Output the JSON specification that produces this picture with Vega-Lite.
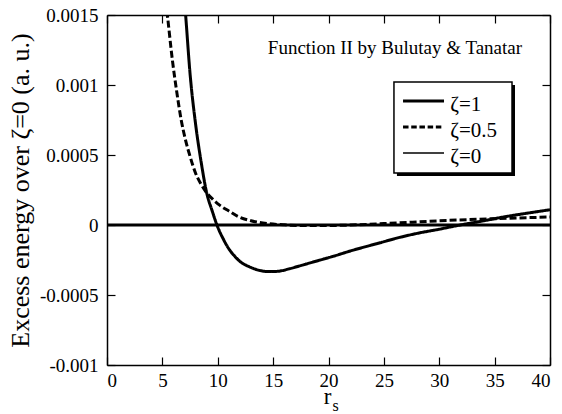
{
  "$schema": "https://vega.github.io/schema/vega-lite/v6.json",
  "width": 443,
  "height": 350,
  "autosize": {"type": "none"},
  "padding": {"left": 107, "top": 15, "right": 12, "bottom": 49},
  "background": "white",
  "config": {
    "font": "Liberation Serif",
    "view": {"stroke": null},
    "style": {
      "guide-label": {"font": "Liberation Serif", "fontSize": 19, "fill": "black"},
      "guide-title": {"font": "Liberation Serif", "fill": "black", "fontWeight": "normal"}
    },
    "axis": {
      "domainColor": "black",
      "domainWidth": 1.5,
      "tickColor": "black",
      "tickWidth": 1.2,
      "tickSize": -8,
      "grid": false,
      "labelFont": "Liberation Serif",
      "labelFontSize": 19,
      "labelColor": "black",
      "titleFont": "Liberation Serif",
      "titleFontWeight": "normal",
      "titleColor": "black"
    }
  },
  "datasets": {
    "curves": [
      {"series": "ζ=0", "r": 0, "e": 0},
      {"series": "ζ=0", "r": 40, "e": 0},
      {"series": "ζ=0.5", "r": 5.3, "e": 0.0016},
      {"series": "ζ=0.5", "r": 5.45, "e": 0.0015},
      {"series": "ζ=0.5", "r": 5.9, "e": 0.00118},
      {"series": "ζ=0.5", "r": 6.3, "e": 0.00095},
      {"series": "ζ=0.5", "r": 6.7, "e": 0.00075},
      {"series": "ζ=0.5", "r": 7.05, "e": 0.00062},
      {"series": "ζ=0.5", "r": 7.5, "e": 0.00049},
      {"series": "ζ=0.5", "r": 8.0, "e": 0.00037},
      {"series": "ζ=0.5", "r": 8.5, "e": 0.00029},
      {"series": "ζ=0.5", "r": 9.0, "e": 0.00023},
      {"series": "ζ=0.5", "r": 9.6, "e": 0.00018},
      {"series": "ζ=0.5", "r": 10.2, "e": 0.00014},
      {"series": "ζ=0.5", "r": 11.0, "e": 0.0001},
      {"series": "ζ=0.5", "r": 11.85, "e": 0.00006},
      {"series": "ζ=0.5", "r": 13.0, "e": 0.00003},
      {"series": "ζ=0.5", "r": 14.5, "e": 0.00001},
      {"series": "ζ=0.5", "r": 16.0, "e": 0.000001},
      {"series": "ζ=0.5", "r": 18.0, "e": -0.000004},
      {"series": "ζ=0.5", "r": 20.0, "e": -0.000004},
      {"series": "ζ=0.5", "r": 22.0, "e": 0},
      {"series": "ζ=0.5", "r": 25.0, "e": 0.00001},
      {"series": "ζ=0.5", "r": 30.0, "e": 0.00003},
      {"series": "ζ=0.5", "r": 35.0, "e": 0.000045},
      {"series": "ζ=0.5", "r": 40.0, "e": 0.000057},
      {"series": "ζ=1", "r": 6.95, "e": 0.00165},
      {"series": "ζ=1", "r": 7.1, "e": 0.0015},
      {"series": "ζ=1", "r": 7.5, "e": 0.00108},
      {"series": "ζ=1", "r": 8.0, "e": 0.00072},
      {"series": "ζ=1", "r": 8.5, "e": 0.00045},
      {"series": "ζ=1", "r": 9.0, "e": 0.00023},
      {"series": "ζ=1", "r": 9.5, "e": 0.0001},
      {"series": "ζ=1", "r": 10.0, "e": -0.000015},
      {"series": "ζ=1", "r": 10.5, "e": -0.0001},
      {"series": "ζ=1", "r": 11.0, "e": -0.00017},
      {"series": "ζ=1", "r": 11.5, "e": -0.00022},
      {"series": "ζ=1", "r": 12.0, "e": -0.00026},
      {"series": "ζ=1", "r": 12.9, "e": -0.0003},
      {"series": "ζ=1", "r": 13.8, "e": -0.000325},
      {"series": "ζ=1", "r": 14.7, "e": -0.000333},
      {"series": "ζ=1", "r": 15.5, "e": -0.00033},
      {"series": "ζ=1", "r": 16.5, "e": -0.000312},
      {"series": "ζ=1", "r": 17.4, "e": -0.000292},
      {"series": "ζ=1", "r": 18.5, "e": -0.000267},
      {"series": "ζ=1", "r": 20.4, "e": -0.000224},
      {"series": "ζ=1", "r": 22.0, "e": -0.000185},
      {"series": "ζ=1", "r": 24.65, "e": -0.000127},
      {"series": "ζ=1", "r": 26.5, "e": -0.000087},
      {"series": "ζ=1", "r": 28.0, "e": -0.00006},
      {"series": "ζ=1", "r": 30.0, "e": -0.00003},
      {"series": "ζ=1", "r": 31.9, "e": 0},
      {"series": "ζ=1", "r": 34.0, "e": 0.00003},
      {"series": "ζ=1", "r": 36.0, "e": 0.00006},
      {"series": "ζ=1", "r": 38.0, "e": 0.000085},
      {"series": "ζ=1", "r": 40.0, "e": 0.000109}
    ],
    "one": [{}]
  },
  "layer": [
    {
      "data": {"name": "curves"},
      "mark": {"type": "line", "color": "black", "clip": true, "interpolate": "monotone"},
      "encoding": {
        "x": {
          "field": "r", "type": "quantitative",
          "scale": {"domain": [0, 40], "nice": false, "zero": false},
          "axis": {
            "values": [0, 5, 10, 15, 20, 25, 30, 35, 40],
            "labelFont": "Liberation Serif",
            "labelFontSize": 19,
            "labelPadding": 14,
            "title": "r",
            "titleFont": "Liberation Serif",
            "titleFontSize": 23,
            "titlePadding": -5,
            "titleX": 220,
            "titleAlign": "center"
          }
        },
        "y": {
          "field": "e", "type": "quantitative",
          "scale": {"domain": [-0.001, 0.0015], "nice": false, "zero": false},
          "axis": {
            "values": [-0.001, -0.0005, 0, 0.0005, 0.001, 0.0015],
            "labelExpr": "toString(datum.value)",
            "labelFont": "Liberation Serif",
            "labelFontSize": 19,
            "labelPadding": 17,
            "title": "Excess energy over ζ=0 (a. u.)",
            "titleFont": "Liberation Serif",
            "titleFontSize": 26,
            "titlePadding": 6
          }
        },
        "detail": {"field": "series"},
        "strokeDash": {
          "field": "series", "type": "nominal",
          "scale": {"domain": ["ζ=1", "ζ=0.5", "ζ=0"], "range": [[1, 0], [7, 3], [1, 0]]},
          "legend": null
        },
        "strokeWidth": {
          "field": "series", "type": "nominal",
          "scale": {"domain": ["ζ=1", "ζ=0.5", "ζ=0"], "range": [3, 3, 1.5]},
          "legend": null
        },
        "order": {"field": "r", "type": "quantitative"}
      }
    },
    {
      "data": {"name": "curves"},
      "mark": {"type": "point", "opacity": 0},
      "encoding": {
        "x": {
          "field": "r", "type": "quantitative",
          "axis": {"orient": "top", "values": [0, 5, 10, 15, 20, 25, 30, 35, 40], "labels": false, "title": null}
        },
        "y": {
          "field": "e", "type": "quantitative",
          "axis": {"orient": "right", "values": [-0.001, -0.0005, 0, 0.0005, 0.001, 0.0015], "labels": false, "title": null}
        }
      }
    },
    {
      "data": {"name": "one"},
      "mark": {"type": "rect", "fill": "black"},
      "encoding": {
        "x": {"datum": 26.18, "type": "quantitative", "axis": null},
        "x2": {"datum": 36.84},
        "y": {"datum": 0.0010, "type": "quantitative", "axis": null},
        "y2": {"datum": 0.00035}
      }
    },
    {
      "data": {"name": "one"},
      "mark": {"type": "rect", "fill": "white", "stroke": "black", "strokeWidth": 1.5},
      "encoding": {
        "x": {"datum": 25.91, "type": "quantitative", "axis": null},
        "x2": {"datum": 36.57},
        "y": {"datum": 0.001021, "type": "quantitative", "axis": null},
        "y2": {"datum": 0.000371}
      }
    },
    {
      "data": {"name": "one"},
      "mark": {"type": "rule", "color": "black", "strokeWidth": 3},
      "encoding": {
        "x": {"datum": 26.73, "type": "quantitative", "axis": null},
        "x2": {"datum": 30.43},
        "y": {"datum": 0.000886, "type": "quantitative", "axis": null}
      }
    },
    {
      "data": {"name": "one"},
      "mark": {"type": "rule", "color": "black", "strokeWidth": 3, "strokeDash": [5.5, 2.7]},
      "encoding": {
        "x": {"datum": 26.73, "type": "quantitative", "axis": null},
        "x2": {"datum": 30.43},
        "y": {"datum": 0.0007, "type": "quantitative", "axis": null}
      }
    },
    {
      "data": {"name": "one"},
      "mark": {"type": "rule", "color": "black", "strokeWidth": 1.5},
      "encoding": {
        "x": {"datum": 26.73, "type": "quantitative", "axis": null},
        "x2": {"datum": 30.43},
        "y": {"datum": 0.000514, "type": "quantitative", "axis": null}
      }
    },
    {
      "data": {"name": "one"},
      "mark": {"type": "text", "fontSize": 21, "font": "Liberation Serif", "color": "black", "align": "left", "baseline": "alphabetic"},
      "encoding": {
        "x": {"datum": 31.0, "type": "quantitative", "axis": null},
        "y": {"datum": 0.000814, "type": "quantitative", "axis": null},
        "text": {"value": "ζ=1"}
      }
    },
    {
      "data": {"name": "one"},
      "mark": {"type": "text", "fontSize": 21, "font": "Liberation Serif", "color": "black", "align": "left", "baseline": "alphabetic"},
      "encoding": {
        "x": {"datum": 31.0, "type": "quantitative", "axis": null},
        "y": {"datum": 0.000629, "type": "quantitative", "axis": null},
        "text": {"value": "ζ=0.5"}
      }
    },
    {
      "data": {"name": "one"},
      "mark": {"type": "text", "fontSize": 21, "font": "Liberation Serif", "color": "black", "align": "left", "baseline": "alphabetic"},
      "encoding": {
        "x": {"datum": 31.0, "type": "quantitative", "axis": null},
        "y": {"datum": 0.000443, "type": "quantitative", "axis": null},
        "text": {"value": "ζ=0"}
      }
    },
    {
      "data": {"name": "one"},
      "mark": {"type": "text", "fontSize": 19, "font": "Liberation Serif", "color": "black", "align": "center", "baseline": "middle"},
      "encoding": {
        "x": {"datum": 26.0, "type": "quantitative", "axis": null},
        "y": {"datum": 0.001264, "type": "quantitative", "axis": null},
        "text": {"value": "Function II by Bulutay & Tanatar"}
      }
    },
    {
      "data": {"name": "one"},
      "mark": {"type": "text", "fontSize": 16, "font": "Liberation Serif", "color": "black", "align": "left", "baseline": "alphabetic"},
      "encoding": {
        "x": {"datum": 20.35, "type": "quantitative", "axis": null},
        "y": {"datum": -0.00133, "type": "quantitative", "axis": null},
        "text": {"value": "s"}
      }
    }
  ],
  "resolve": {"axis": {"x": "independent", "y": "independent"}}
}
